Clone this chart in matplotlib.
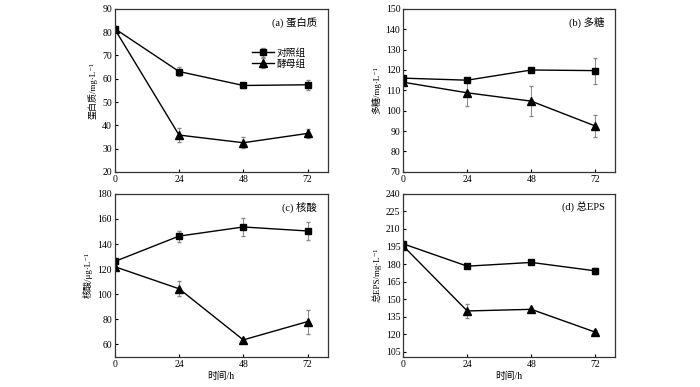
import numpy as np
import matplotlib
matplotlib.use("Agg")
import matplotlib.pyplot as plt

plt.rcParams['font.family'] = ['Liberation Serif', 'Noto Sans CJK SC', 'DejaVu Serif']
plt.rcParams['axes.unicode_minus'] = False

# 时间
hours = [0, 24, 48, 72]

# (a) 蛋白质
prot_ctrl = [81.5, 63.1, 57.1, 57.4]
prot_ctrl_err = [0.8, 2.0, 1.0, 2.1]
prot_yeast = [81.3, 35.8, 32.5, 36.5]
prot_yeast_err = [0.8, 2.9, 2.4, 2.0]

# (b) 多糖
poly_ctrl = [116.0, 115.0, 120.0, 119.7]
poly_ctrl_err = [1.0, 1.0, 0.8, 6.4]
poly_yeast = [114.0, 108.8, 104.7, 92.5]
poly_yeast_err = [0.8, 6.7, 7.4, 5.3]

# (c) 核酸
nuc_ctrl = [126.1, 146.3, 153.6, 150.4]
nuc_ctrl_err = [3.0, 4.3, 7.2, 7.2]
nuc_yeast = [121.9, 104.3, 63.5, 78.1]
nuc_yeast_err = [1.5, 5.9, 1.0, 9.6]

# (d) 总EPS
eps_ctrl = [197.3, 178.2, 181.4, 174.2]
eps_ctrl_err = [2.0, 1.5, 1.5, 2.5]
eps_yeast = [195.5, 139.9, 141.3, 121.8]
eps_yeast_err = [2.0, 6.0, 1.5, 2.0]

panels = [
    ("(a) 蛋白质", "蛋白质/mg·L⁻¹", (20, 90), np.arange(20, 91, 10),
     prot_ctrl, prot_ctrl_err, prot_yeast, prot_yeast_err),
    ("(b) 多糖", "多糖/mg·L⁻¹", (70, 150), np.arange(70, 151, 10),
     poly_ctrl, poly_ctrl_err, poly_yeast, poly_yeast_err),
    ("(c) 核酸", "核酸/μg·L⁻¹", (50, 180), np.arange(60, 181, 20),
     nuc_ctrl, nuc_ctrl_err, nuc_yeast, nuc_yeast_err),
    ("(d) 总EPS", "总EPS/mg·L⁻¹", (100.7, 240), np.arange(105, 241, 15),
     eps_ctrl, eps_ctrl_err, eps_yeast, eps_yeast_err),
]

positions = [
    [0.164, 0.556, 0.304, 0.421],
    [0.576, 0.556, 0.303, 0.421],
    [0.164, 0.078, 0.304, 0.421],
    [0.576, 0.078, 0.303, 0.421],
]

fig = plt.figure(figsize=(7, 3.87), dpi=100)
axc = "#333333"

for i, (title, ylab, ylim, yt, c, ce, y, ye) in enumerate(panels):
    ax = fig.add_axes(positions[i])
    ax.errorbar(hours, c, yerr=ce, color='black', marker='s', ms=4.5,
                lw=1.0, ecolor='#888888', elinewidth=0.7, capsize=1.5,
                label='对照组')
    ax.errorbar(hours, y, yerr=ye, color='black', marker='^', ms=5.5,
                lw=1.0, ecolor='#888888', elinewidth=0.7, capsize=1.5,
                label='酵母组')
    ax.set_xlim(0, 79.5)
    ax.set_ylim(*ylim)
    ax.set_xticks(hours)
    ax.set_yticks(yt)
    ax.tick_params(direction='in', length=2, width=0.8, labelsize=7,
                   colors='black', pad=2)
    for s in ax.spines.values():
        s.set_color(axc)
        s.set_linewidth(0.9)
    ax.set_ylabel(ylab, fontsize=6.5, labelpad=3)
    ax.text(0.95, 0.915, title, transform=ax.transAxes, ha='right',
            va='center', fontsize=7.5)
    if i >= 2:
        ax.set_xlabel('时间/h', fontsize=7, labelpad=2)
    if i == 0:
        ax.legend(loc='upper right', bbox_to_anchor=(0.93, 0.8), frameon=False,
                  fontsize=7, handlelength=2.2, handletextpad=0.3,
                  labelspacing=0.15, borderpad=0.2)

fig.savefig("out.png", dpi=100)
